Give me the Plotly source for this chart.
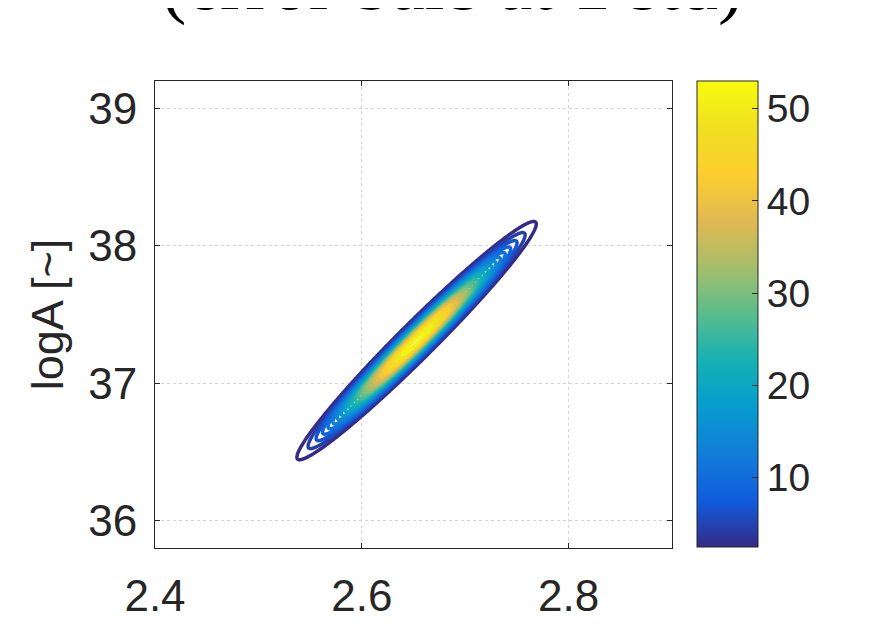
import numpy as np
import plotly.graph_objects as go

# ---- values ----
title_text = "(error bars at 1 std)"
y_label = "logA [~]"
x_ticks = [2.4, 2.6, 2.8]
x_tick_labels = ["2.4", "2.6", "2.8"]
y_ticks = [36, 37, 38, 39]
y_tick_labels = ["36", "37", "38", "39"]
cbar_ticks = [10, 20, 30, 40, 50]
cbar_tick_labels = ["10", "20", "30", "40", "50"]
x_range = [2.4, 2.9]
y_range = [35.8, 39.2]
cbar_range = [2.5, 53.0]

# density surface parameters (bivariate normal)
center_x = 2.653
center_y = 37.31
sigma_x = 0.0483
sigma_y = 0.362
rho = 0.978
peak_density = 53.0
level_start = 3.0
level_end = 53.0
level_step = 2.0

# parula-like colormap
parula = [
    [0.0, "rgb(53,42,135)"],
    [0.1, "rgb(15,92,221)"],
    [0.2, "rgb(18,125,216)"],
    [0.3, "rgb(7,156,207)"],
    [0.4, "rgb(21,177,180)"],
    [0.5, "rgb(89,189,140)"],
    [0.6, "rgb(165,190,107)"],
    [0.7, "rgb(225,185,82)"],
    [0.8, "rgb(252,206,46)"],
    [0.9, "rgb(239,224,33)"],
    [1.0, "rgb(249,251,14)"],
]

# ---- grid evaluation of the density ----
gx = np.linspace(2.48, 2.83, 450)
gy = np.linspace(36.15, 38.5, 450)
X, Y = np.meshgrid(gx, gy)
u = (X - center_x) / sigma_x
v = (Y - center_y) / sigma_y
q = (u * u - 2 * rho * u * v + v * v) / (1 - rho * rho)
Z = peak_density * np.exp(-0.5 * q)

font_main = "Liberation Sans, Arial, sans-serif"
axis_col = "#262626"

# page has an 8px body margin: work in figure pixels (screen - 8)
OFF = 8
FW, FH = 879 - OFF, 635 - OFF
L, R, T, B = 155 - OFF, 672 - OFF, 81 - OFF, 548 - OFF
PW, PH = R - L, B - T

fig = go.Figure()
fig.add_trace(go.Contour(
    x=gx, y=gy, z=Z,
    autocontour=False,
    contours=dict(start=level_start, end=level_end, size=level_step, coloring="lines"),
    line=dict(width=3.5),
    colorscale=parula,
    zmin=cbar_range[0], zmax=cbar_range[1],
    showscale=False,
    hoverinfo="skip",
))

# continuous colorbar
fig.add_trace(go.Scatter(
    x=[None, None], y=[None, None], mode="markers",
    marker=dict(
        color=cbar_range, cmin=cbar_range[0], cmax=cbar_range[1],
        colorscale=parula, showscale=True,
        colorbar=dict(
            x=(697 - OFF - L) / PW, xanchor="left",
            y=(B - (547 - OFF)) / PH, yanchor="bottom",
            len=466, lenmode="pixels",
            thickness=61, thicknessmode="pixels",
            xpad=0, ypad=0,
            outlinewidth=1, outlinecolor=axis_col,
            ticks="inside", ticklen=6, tickcolor=axis_col,
            tickvals=cbar_ticks, ticktext=cbar_tick_labels,
            tickprefix="\u2009",
            tickfont=dict(family=font_main, size=39, color=axis_col),
        ),
    ),
    showlegend=False, hoverinfo="skip",
))

fig.update_layout(
    width=FW, height=FH,
    margin=dict(l=L, r=FW - R, t=T, b=FH - B, autoexpand=False),
    paper_bgcolor="white", plot_bgcolor="white",
    showlegend=False,
    annotations=[dict(
        text=title_text, xref="paper", yref="paper",
        x=(452 - OFF - L) / PW, y=(B - (28 - OFF)) / PH,
        xanchor="center", yanchor="bottom", showarrow=False,
        font=dict(family="Liberation Serif, Times New Roman, serif", size=76, color="black"),
    )],
)

fig.update_xaxes(
    range=x_range, tickvals=x_ticks, ticktext=x_tick_labels,
    showline=True, linecolor=axis_col, linewidth=1, mirror="ticks",
    ticks="inside", ticklen=5, tickcolor=axis_col,
    showgrid=True, gridcolor="#d4d4d4", griddash="dot", gridwidth=1,
    zeroline=False, automargin=False,
    tickfont=dict(family=font_main, size=44, color=axis_col),
    ticklabelstandoff=9,
)
fig.update_yaxes(
    range=y_range, tickvals=y_ticks, ticktext=y_tick_labels,
    showline=True, linecolor=axis_col, linewidth=1, mirror="ticks",
    ticks="inside", ticklen=5, tickcolor=axis_col,
    showgrid=True, gridcolor="#d4d4d4", griddash="dot", gridwidth=1,
    zeroline=False, automargin=False,
    tickfont=dict(family=font_main, size=44, color=axis_col),
    ticklabelstandoff=8,
    title=dict(text=y_label, font=dict(family=font_main, size=45, color=axis_col), standoff=10),
)

fig.write_html("out.html")
